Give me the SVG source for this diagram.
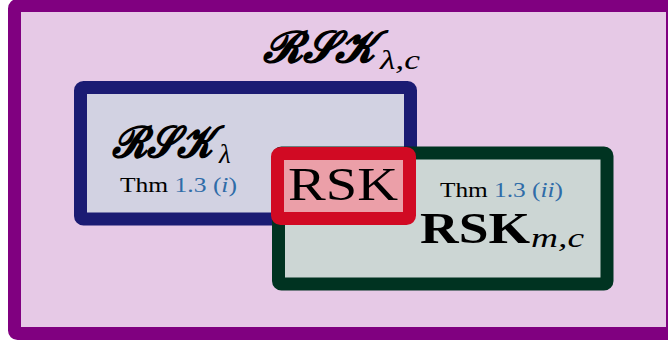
<svg xmlns="http://www.w3.org/2000/svg" width="668" height="341" viewBox="0 0 668 341">
<style>
.box{stroke-width:13;stroke-linejoin:round}
.cal{font-family:"DejaVu Serif","Noto Sans","DejaVu Sans",serif;font-weight:bold;font-style:italic;fill:#000}
.rm{font-family:"Liberation Serif","DejaVu Serif",serif;fill:#000}
.it{font-family:"Liberation Serif","DejaVu Serif",serif;font-style:italic;fill:#000}
.lnk{fill:#2f6ca8}
</style>
<g id="outer">
<rect class="box" x="14.5" y="5.5" width="658" height="328" rx="3" fill="#e6c9e6" stroke="#800080"/>
<text class="cal" x="263" y="62" font-size="44" textLength="112" lengthAdjust="spacingAndGlyphs">𝓡𝓢𝓚</text>
<text class="it" x="380" y="69" font-size="27" textLength="40" lengthAdjust="spacingAndGlyphs">λ,c</text>
</g>
<g id="rsk-lambda">
<rect class="box" x="80.5" y="87.5" width="330" height="131.5" rx="3" fill="#d2d2e2" stroke="#1b1b73"/>
<text class="cal" x="112" y="157" font-size="44" textLength="100" lengthAdjust="spacingAndGlyphs">𝓡𝓢𝓚</text>
<text class="it" x="219" y="163" font-size="27">λ</text>
<text class="rm" x="120" y="192" font-size="21" textLength="117" lengthAdjust="spacingAndGlyphs">Thm <tspan class="lnk">1.3 (<tspan font-style="italic">i</tspan>)</tspan></text>
</g>
<g id="rsk-mc">
<rect class="box" x="278.5" y="153" width="328.5" height="131" rx="3" fill="#ccd6d4" stroke="#003321"/>
<text class="rm" x="440" y="197" font-size="21" textLength="123" lengthAdjust="spacingAndGlyphs">Thm <tspan class="lnk">1.3 (<tspan font-style="italic">ii</tspan>)</tspan></text>
<text class="rm" x="420" y="243" font-size="44" font-weight="bold" textLength="110" lengthAdjust="spacingAndGlyphs">RSK</text>
<text class="it" x="531" y="247" font-size="28" textLength="53" lengthAdjust="spacingAndGlyphs">m,c</text>
</g>
<g id="rsk">
<rect class="box" x="277.5" y="153.5" width="132" height="65" rx="3" fill="#eb9fa8" stroke="#d10a23"/>
<text class="rm" x="288" y="200" font-size="47" textLength="110" lengthAdjust="spacingAndGlyphs">RSK</text>
</g>
<g id="connectors"/>
</svg>
